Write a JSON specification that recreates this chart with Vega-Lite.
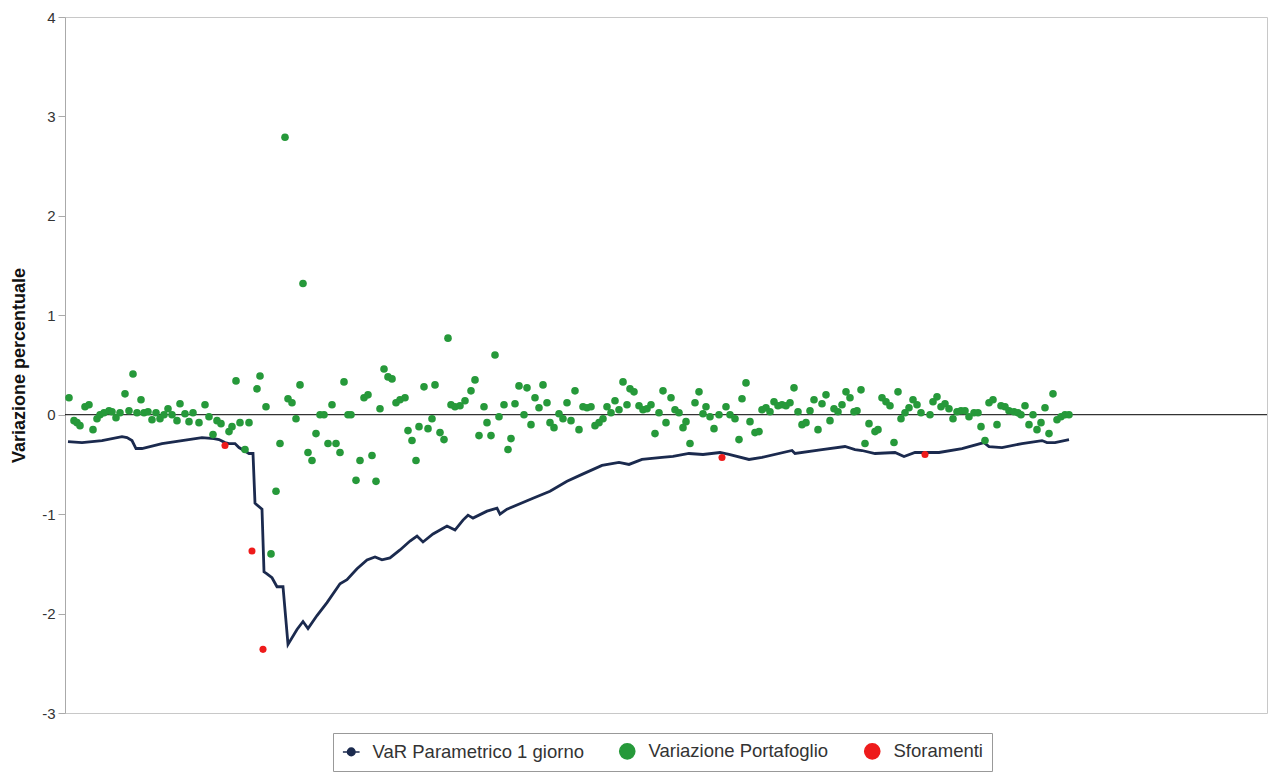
{
  "$schema": "https://vega.github.io/schema/vega-lite/v6.json",
  "width": 1202,
  "height": 696,
  "autosize": {"type": "none"},
  "padding": {"left": 65, "top": 17, "right": 1, "bottom": 69},
  "background": "white",
  "config": {
    "font": "Liberation Sans",
    "view": {"stroke": "#c8c8c8", "strokeWidth": 1},
    "axis": {"grid": false}
  },
  "datasets": {
    "var": [
      {"t": 0.75, "v": -0.27}, {"t": 4.25, "v": -0.28}, {"t": 9.25, "v": -0.26}, {"t": 14.25, "v": -0.22},
      {"t": 15.5, "v": -0.23}, {"t": 16.75, "v": -0.26}, {"t": 17.75, "v": -0.34}, {"t": 19.25, "v": -0.34},
      {"t": 24.25, "v": -0.29}, {"t": 29.25, "v": -0.26}, {"t": 34.25, "v": -0.23}, {"t": 37.25, "v": -0.24},
      {"t": 38.5, "v": -0.25}, {"t": 40, "v": -0.28}, {"t": 41, "v": -0.29}, {"t": 42.5, "v": -0.29},
      {"t": 43.5, "v": -0.33}, {"t": 44.75, "v": -0.36}, {"t": 46, "v": -0.39}, {"t": 47, "v": -0.39},
      {"t": 47.5, "v": -0.89}, {"t": 49.25, "v": -0.95}, {"t": 49.75, "v": -1.58}, {"t": 50.5, "v": -1.6},
      {"t": 51.75, "v": -1.64}, {"t": 53, "v": -1.73}, {"t": 54.5, "v": -1.73}, {"t": 55.75, "v": -2.31},
      {"t": 58, "v": -2.16}, {"t": 59.5, "v": -2.08}, {"t": 60.75, "v": -2.15}, {"t": 63, "v": -2.02},
      {"t": 65.5, "v": -1.89}, {"t": 68.75, "v": -1.7}, {"t": 70.5, "v": -1.66}, {"t": 73, "v": -1.55},
      {"t": 75.5, "v": -1.46}, {"t": 77.5, "v": -1.43}, {"t": 79.25, "v": -1.46}, {"t": 81.25, "v": -1.44},
      {"t": 83.75, "v": -1.36}, {"t": 86.25, "v": -1.27}, {"t": 88, "v": -1.22}, {"t": 89.5, "v": -1.28},
      {"t": 92, "v": -1.2}, {"t": 95.5, "v": -1.12}, {"t": 97.5, "v": -1.16}, {"t": 99.5, "v": -1.06},
      {"t": 100.75, "v": -1.01}, {"t": 102, "v": -1.04}, {"t": 105.5, "v": -0.97}, {"t": 108, "v": -0.94},
      {"t": 108.75, "v": -1.0}, {"t": 110.5, "v": -0.95}, {"t": 117, "v": -0.84}, {"t": 121.25, "v": -0.77},
      {"t": 125.5, "v": -0.67}, {"t": 129.25, "v": -0.6}, {"t": 134.25, "v": -0.51}, {"t": 138.5, "v": -0.48},
      {"t": 141, "v": -0.5}, {"t": 144.25, "v": -0.45}, {"t": 149.25, "v": -0.43}, {"t": 152, "v": -0.42},
      {"t": 156, "v": -0.39}, {"t": 159.5, "v": -0.4}, {"t": 163.75, "v": -0.38}, {"t": 166, "v": -0.4},
      {"t": 171, "v": -0.45}, {"t": 174.25, "v": -0.43}, {"t": 181.75, "v": -0.36}, {"t": 182.5, "v": -0.39},
      {"t": 189.25, "v": -0.35}, {"t": 195, "v": -0.32}, {"t": 197.5, "v": -0.35}, {"t": 199.25, "v": -0.36},
      {"t": 202.5, "v": -0.39}, {"t": 207.5, "v": -0.38}, {"t": 209.75, "v": -0.42}, {"t": 212.5, "v": -0.38},
      {"t": 216, "v": -0.38}, {"t": 218.5, "v": -0.38}, {"t": 224.25, "v": -0.34}, {"t": 229.75, "v": -0.28},
      {"t": 231, "v": -0.32}, {"t": 234.25, "v": -0.33}, {"t": 239.25, "v": -0.29}, {"t": 244.25, "v": -0.26},
      {"t": 245.5, "v": -0.28}, {"t": 247.5, "v": -0.28}, {"t": 251, "v": -0.25}
    ],
    "port": [
      {"t": 1, "v": 0.17}, {"t": 2.25, "v": -0.06}, {"t": 3, "v": -0.08}, {"t": 3.75, "v": -0.11},
      {"t": 5, "v": 0.08}, {"t": 6, "v": 0.1}, {"t": 7, "v": -0.15}, {"t": 8, "v": -0.04},
      {"t": 8.75, "v": 0.0}, {"t": 9.75, "v": 0.02}, {"t": 11, "v": 0.04}, {"t": 11.75, "v": 0.03},
      {"t": 12.75, "v": -0.03}, {"t": 13.75, "v": 0.02}, {"t": 15, "v": 0.21}, {"t": 16, "v": 0.04},
      {"t": 17, "v": 0.41}, {"t": 18, "v": 0.02}, {"t": 19, "v": 0.15}, {"t": 19.75, "v": 0.02},
      {"t": 20.75, "v": 0.03}, {"t": 21.75, "v": -0.05}, {"t": 22.75, "v": 0.02}, {"t": 23.75, "v": -0.04},
      {"t": 24.75, "v": 0.0}, {"t": 25.75, "v": 0.06}, {"t": 26.75, "v": 0.0}, {"t": 28, "v": -0.06},
      {"t": 28.75, "v": 0.11}, {"t": 30, "v": 0.01}, {"t": 31, "v": -0.07}, {"t": 32, "v": 0.02},
      {"t": 33.5, "v": -0.08}, {"t": 35, "v": 0.1}, {"t": 36, "v": -0.02}, {"t": 37, "v": -0.2},
      {"t": 38, "v": -0.06}, {"t": 39, "v": -0.09}, {"t": 41, "v": -0.17}, {"t": 41.75, "v": -0.12},
      {"t": 42.75, "v": 0.34}, {"t": 43.75, "v": -0.08}, {"t": 45, "v": -0.35}, {"t": 46, "v": -0.08},
      {"t": 48, "v": 0.26}, {"t": 48.75, "v": 0.39}, {"t": 50.25, "v": 0.08}, {"t": 51.5, "v": -1.4},
      {"t": 52.75, "v": -0.77}, {"t": 53.75, "v": -0.29}, {"t": 55, "v": 2.79}, {"t": 55.75, "v": 0.16},
      {"t": 56.75, "v": 0.12}, {"t": 57.75, "v": -0.04}, {"t": 58.75, "v": 0.3}, {"t": 59.5, "v": 1.32},
      {"t": 60.75, "v": -0.38}, {"t": 61.75, "v": -0.46}, {"t": 62.75, "v": -0.19}, {"t": 63.75, "v": 0.0},
      {"t": 64.75, "v": 0.0}, {"t": 65.75, "v": -0.29}, {"t": 66.75, "v": 0.1}, {"t": 67.75, "v": -0.29},
      {"t": 68.75, "v": -0.38}, {"t": 69.75, "v": 0.33}, {"t": 70.75, "v": 0.0}, {"t": 71.5, "v": 0.0},
      {"t": 72.75, "v": -0.66}, {"t": 73.75, "v": -0.46}, {"t": 74.75, "v": 0.17}, {"t": 75.75, "v": 0.2},
      {"t": 76.75, "v": -0.41}, {"t": 77.75, "v": -0.67}, {"t": 78.75, "v": 0.06}, {"t": 79.75, "v": 0.46},
      {"t": 80.75, "v": 0.38}, {"t": 81.75, "v": 0.36}, {"t": 82.75, "v": 0.12}, {"t": 83.75, "v": 0.15},
      {"t": 85, "v": 0.17}, {"t": 85.75, "v": -0.16}, {"t": 86.75, "v": -0.26}, {"t": 87.75, "v": -0.46},
      {"t": 88.5, "v": -0.12}, {"t": 89.75, "v": 0.28}, {"t": 90.75, "v": -0.14}, {"t": 91.75, "v": -0.04},
      {"t": 92.5, "v": 0.3}, {"t": 93.75, "v": -0.18}, {"t": 94.75, "v": -0.25}, {"t": 95.75, "v": 0.77},
      {"t": 96.5, "v": 0.1}, {"t": 97.5, "v": 0.08}, {"t": 98.75, "v": 0.09}, {"t": 100, "v": 0.14},
      {"t": 101.5, "v": 0.24}, {"t": 102.5, "v": 0.35}, {"t": 103.5, "v": -0.21}, {"t": 104.75, "v": 0.08},
      {"t": 105.5, "v": -0.08}, {"t": 106.5, "v": -0.21}, {"t": 107.5, "v": 0.6}, {"t": 108.5, "v": -0.02},
      {"t": 109.75, "v": 0.1}, {"t": 110.75, "v": -0.35}, {"t": 111.5, "v": -0.24}, {"t": 112.5, "v": 0.11},
      {"t": 113.5, "v": 0.29}, {"t": 114.75, "v": 0.0}, {"t": 115.5, "v": 0.27}, {"t": 116.5, "v": -0.1},
      {"t": 117.5, "v": 0.17}, {"t": 118.5, "v": 0.07}, {"t": 119.5, "v": 0.3}, {"t": 120.5, "v": 0.12},
      {"t": 121.25, "v": -0.08}, {"t": 122.25, "v": -0.13}, {"t": 123.5, "v": 0.01}, {"t": 124.5, "v": -0.04},
      {"t": 125.5, "v": 0.12}, {"t": 126.5, "v": -0.06}, {"t": 127.5, "v": 0.24}, {"t": 128.5, "v": -0.15},
      {"t": 129.5, "v": 0.08}, {"t": 130.5, "v": 0.07}, {"t": 131.5, "v": 0.08}, {"t": 132.5, "v": -0.11},
      {"t": 133.5, "v": -0.08}, {"t": 134.5, "v": -0.04}, {"t": 135.5, "v": 0.08}, {"t": 136.5, "v": 0.02},
      {"t": 137.5, "v": 0.14}, {"t": 138.5, "v": 0.05}, {"t": 139.5, "v": 0.33}, {"t": 140.5, "v": 0.1},
      {"t": 141.25, "v": 0.26}, {"t": 142.25, "v": 0.23}, {"t": 143.5, "v": 0.09}, {"t": 144.5, "v": 0.05},
      {"t": 145.5, "v": 0.06}, {"t": 146.5, "v": 0.1}, {"t": 147.5, "v": -0.19}, {"t": 148.5, "v": 0.02},
      {"t": 149.5, "v": 0.24}, {"t": 150.25, "v": -0.08}, {"t": 151.5, "v": 0.17}, {"t": 152.5, "v": 0.05},
      {"t": 153.5, "v": 0.02}, {"t": 154.5, "v": -0.13}, {"t": 155.25, "v": -0.07}, {"t": 156.25, "v": -0.29},
      {"t": 157.5, "v": 0.12}, {"t": 158.5, "v": 0.23}, {"t": 159.5, "v": 0.01}, {"t": 160.25, "v": 0.08},
      {"t": 161.25, "v": -0.02}, {"t": 162.25, "v": -0.14}, {"t": 163.5, "v": 0.0}, {"t": 165.25, "v": 0.08},
      {"t": 166.25, "v": 0.0}, {"t": 167.5, "v": -0.04}, {"t": 168.5, "v": -0.25}, {"t": 169.25, "v": 0.16},
      {"t": 170.25, "v": 0.32}, {"t": 171.25, "v": -0.07}, {"t": 172.5, "v": -0.18}, {"t": 173.5, "v": -0.17},
      {"t": 174.25, "v": 0.05}, {"t": 175.25, "v": 0.07}, {"t": 176.25, "v": 0.03}, {"t": 177.25, "v": 0.13},
      {"t": 178.25, "v": 0.09}, {"t": 179.25, "v": 0.1}, {"t": 180.25, "v": 0.09}, {"t": 181.25, "v": 0.12},
      {"t": 182.25, "v": 0.27}, {"t": 183.25, "v": 0.03}, {"t": 184.25, "v": -0.1}, {"t": 185.25, "v": -0.08},
      {"t": 186.25, "v": 0.04}, {"t": 187.25, "v": 0.15}, {"t": 188.25, "v": -0.15}, {"t": 189.25, "v": 0.11},
      {"t": 190.25, "v": 0.2}, {"t": 191.25, "v": -0.06}, {"t": 192.25, "v": 0.06}, {"t": 193.25, "v": 0.03},
      {"t": 194.25, "v": 0.1}, {"t": 195.25, "v": 0.23}, {"t": 196.25, "v": 0.17}, {"t": 197.25, "v": 0.03},
      {"t": 198, "v": 0.04}, {"t": 199, "v": 0.25}, {"t": 200, "v": -0.29}, {"t": 201, "v": -0.09},
      {"t": 202.5, "v": -0.17}, {"t": 203.25, "v": -0.15}, {"t": 204.25, "v": 0.17}, {"t": 205.25, "v": 0.13},
      {"t": 206.25, "v": 0.09}, {"t": 207.25, "v": -0.28}, {"t": 208.25, "v": 0.23}, {"t": 209, "v": -0.04},
      {"t": 210, "v": 0.02}, {"t": 211, "v": 0.07}, {"t": 212, "v": 0.15}, {"t": 213, "v": 0.1},
      {"t": 214, "v": 0.02}, {"t": 216.25, "v": 0.0}, {"t": 217, "v": 0.13}, {"t": 218, "v": 0.18},
      {"t": 219, "v": 0.08}, {"t": 220, "v": 0.11}, {"t": 221, "v": 0.06}, {"t": 222, "v": -0.04},
      {"t": 223, "v": 0.03}, {"t": 224, "v": 0.04}, {"t": 225, "v": 0.04}, {"t": 226, "v": -0.02},
      {"t": 227.25, "v": 0.02}, {"t": 228.25, "v": 0.02}, {"t": 229, "v": -0.12}, {"t": 230, "v": -0.26},
      {"t": 231, "v": 0.12}, {"t": 232, "v": 0.15}, {"t": 233, "v": -0.1}, {"t": 234, "v": 0.09},
      {"t": 235, "v": 0.08}, {"t": 236, "v": 0.04}, {"t": 237.25, "v": 0.03}, {"t": 238.25, "v": 0.02},
      {"t": 239, "v": 0.0}, {"t": 240, "v": 0.09}, {"t": 241, "v": -0.1}, {"t": 242, "v": 0.0},
      {"t": 243, "v": -0.15}, {"t": 244, "v": -0.08}, {"t": 245, "v": 0.07}, {"t": 246, "v": -0.19},
      {"t": 247, "v": 0.21}, {"t": 248, "v": -0.05}, {"t": 249, "v": -0.02}, {"t": 250, "v": 0.0},
      {"t": 251, "v": 0.0}
    ],
    "sfor": [
      {"t": 40, "v": -0.31}, {"t": 46.75, "v": -1.37}, {"t": 49.5, "v": -2.36},
      {"t": 164.25, "v": -0.43}, {"t": 215, "v": -0.4}
    ],
    "zero": [{"v": 0}]
  },
  "encoding": {
    "x": {"field": "t", "type": "quantitative", "scale": {"domain": [0, 300.5], "nice": false, "zero": false}, "axis": null},
    "y": {
      "field": "v", "type": "quantitative",
      "scale": {"domain": [-3, 4], "nice": false},
      "axis": {
        "title": "Variazione percentuale",
        "titleFont": "Liberation Sans", "titleFontSize": 18, "titleFontWeight": "bold", "titleColor": "#111",
        "titlePadding": 13,
        "values": [-3, -2, -1, 0, 1, 2, 3, 4],
        "labelExpr": "replace(datum.label, '\u2212', '-')",
        "labelFont": "Liberation Sans", "labelFontSize": 15, "labelColor": "#333", "labelPadding": 3,
        "tickSize": 7, "tickColor": "#aaa", "domainColor": "#aaa", "domainWidth": 1
      }
    }
  },
  "layer": [
    {
      "data": {"name": "zero"},
      "mark": {"type": "rule", "color": "#000", "strokeWidth": 1},
      "encoding": {"x": {"value": 0}, "x2": {"value": 1202}, "y": {"field": "v", "type": "quantitative"}}
    },
    {
      "data": {"name": "var"},
      "mark": {"type": "line", "strokeWidth": 2.8, "interpolate": "linear"},
      "encoding": {
        "color": {
          "datum": "VaR Parametrico 1 giorno", "type": "nominal",
          "scale": {
            "domain": ["VaR Parametrico 1 giorno", "Variazione Portafoglio", "Sforamenti"],
            "range": ["#1b2a4e", "#26993a", "#ee1b1b"]
          },
          "legend": {
            "title": null,
            "orient": "none",
            "legendX": 268,
            "legendY": 716,
            "direction": "horizontal",
            "symbolType": "circle",
            "symbolSize": 230,
            "symbolStrokeWidth": 1.5,
            "labelFont": "Liberation Sans",
            "labelFontSize": 18.5,
            "labelLimit": 0,
            "labelColor": "#333",
            "labelOffset": 12,
            "columnPadding": 32,
            "padding": 9,
            "strokeColor": "#999",
            "fillColor": "white",
            "encode": {
              "symbols": {
                "update": {
                  "shape": {"signal": "datum.value === 'VaR Parametrico 1 giorno' ? 'M-1.1,0L-0.5,0M0.5,0L1.1,0M0.5,0A0.5,0.5,0,1,1,-0.5,0A0.5,0.5,0,1,1,0.5,0' : 'circle'"},
                  "fill": {"signal": "datum.value === 'VaR Parametrico 1 giorno' ? 'white' : (datum.value === 'Sforamenti' ? '#ee1b1b' : '#26993a')"},
                  "stroke": {"signal": "datum.value === 'VaR Parametrico 1 giorno' ? '#1b2a4e' : (datum.value === 'Sforamenti' ? '#ee1b1b' : '#26993a')"},
                  "strokeWidth": {"value": 1.5},
                  "opacity": {"value": 1}
                }
              }
            }
          }
        }
      }
    },
    {
      "data": {"name": "port"},
      "mark": {"type": "circle", "size": 58, "opacity": 1},
      "encoding": {"color": {"datum": "Variazione Portafoglio", "type": "nominal"}}
    },
    {
      "data": {"name": "sfor"},
      "mark": {"type": "circle", "size": 50, "opacity": 1},
      "encoding": {"color": {"datum": "Sforamenti", "type": "nominal"}}
    }
  ]
}
